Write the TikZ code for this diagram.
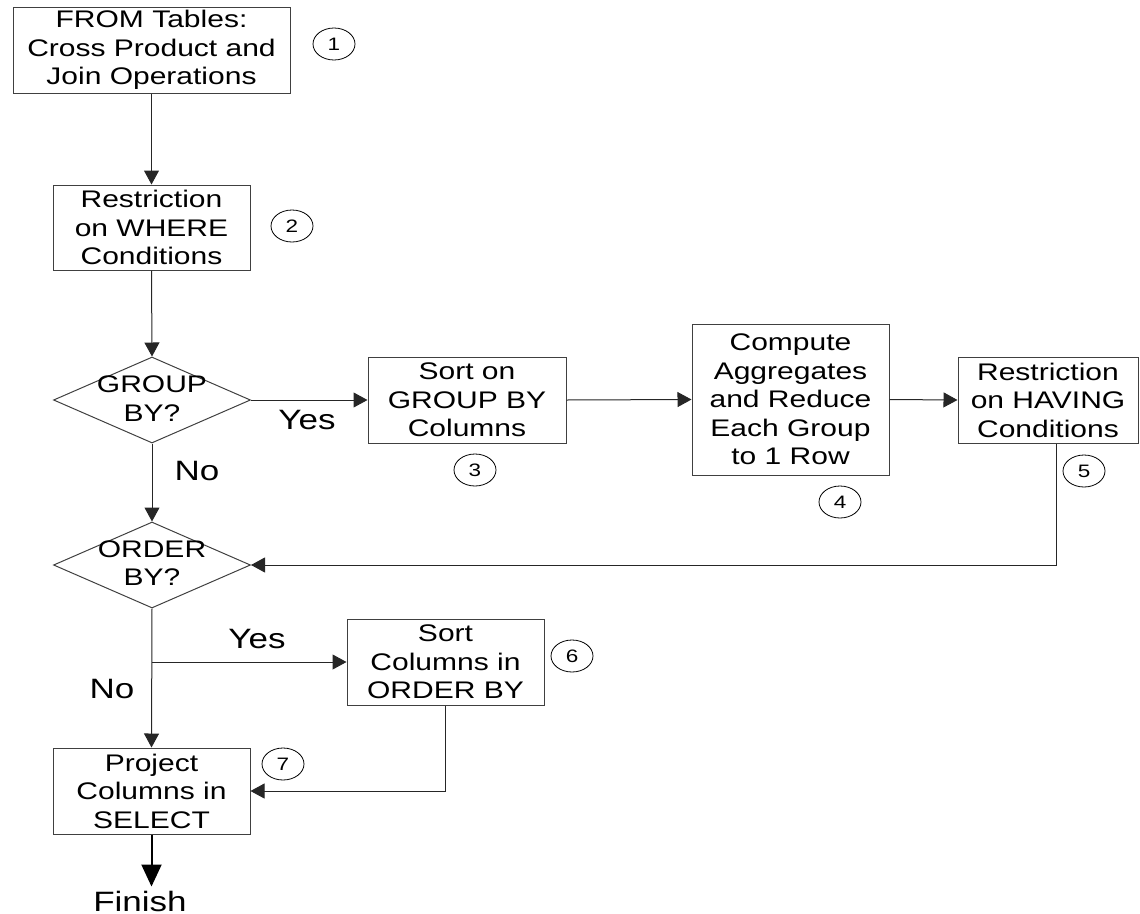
\documentclass[tikz,border=0pt]{standalone}
\usepackage{fontspec}
\setmainfont{Liberation Sans}[FakeStretch=1.25]
\usetikzlibrary{shapes.geometric,arrows.meta}
\begin{document}
\begin{tikzpicture}[x=1pt,y=-1pt,
  box/.style={draw=black!75, line width=1pt, minimum width=197pt, minimum height=86pt, inner sep=0pt, align=center, font=\fontsize{24}{28.5}\selectfont},
  dia/.style={draw=black!75, line width=1pt, diamond, minimum width=197pt, minimum height=86pt, inner sep=0pt},
  diatext/.style={align=center, inner sep=0pt, font=\fontsize{24}{28.5}\selectfont},
  num/.style={draw=black, line width=0.8pt, ellipse, minimum width=42pt, minimum height=32pt, inner sep=0pt, font=\fontsize{18}{18}\selectfont},
  lbl/.style={inner sep=0pt, font=\fontsize{28}{30}\selectfont},
  conn/.style={draw=black!85, line width=1pt, -{Triangle[length=14pt,width=15pt]}},
  bigconn/.style={draw=black, line width=2pt, -{Triangle[length=22pt,width=20pt]}},
]
\useasboundingbox (0,0) rectangle (1140,913);

% boxes
\node[box, minimum width=277pt] (b1) at (151.5,50) {FROM Tables:\\Cross Product and\\Join Operations};
\node[box, minimum height=85pt] (b2) at (151.5,227.5) {Restriction\\on WHERE\\Conditions};
\node[dia] (d1) at (152,400) {};
\node[diatext] (d1t) at (152,398.5) {GROUP\\BY?};
\node[box, minimum width=198pt] (b3) at (467,400) {Sort on\\GROUP BY\\Columns};
\node[box, minimum height=151pt] (b4) at (790.5,399.5) {Compute\\Aggregates\\and Reduce\\Each Group\\to 1 Row};
\node[box, minimum width=180pt] (b5) at (1048,400) {Restriction\\on HAVING\\Conditions};
\node[dia] (d2) at (152,565) {};
\node[diatext] (d2t) at (152,563) {ORDER\\BY?};
\node[box] (b6) at (445.5,662) {Sort\\Columns in\\ORDER BY};
\node[box] (b7) at (151.5,791) {Project\\Columns in\\SELECT};
\node[lbl] (fin) at (140,901) {Finish};

% step numbers
\node[num] (c1) at (334,44) {1};
\node[num] (c2) at (292,226) {2};
\node[num] (c3) at (475,470) {3};
\node[num] (c4) at (840,502) {4};
\node[num] (c5) at (1084,471) {5};
\node[num] (c6) at (572,656) {6};
\node[num] (c7) at (283,764) {7};

% labels
\node[lbl] (yes1) at (307,420) {Yes};
\node[lbl] (no1) at (197,471) {No};
\node[lbl] (yes2) at (257,639) {Yes};
\node[lbl] (no2) at (112,689) {No};

% connectors
\draw[conn] (b1.south) -- (b2.north);
\draw[conn] (b2.south) -- (d1.north);
\draw[conn] (d1.east) -- (b3.west);
\draw[conn] (b3.east) -- (b4.west);
\draw[conn] (b4.east) -- (b5.west);
\draw[conn] ([xshift=8pt]b5.south) |- (d2.east);
\draw[conn] (d1.south) -- (d2.north);
\draw[conn] (d2.south) -- (b7.north);
\coordinate (br) at (d2.south |- b6.west);
\draw[conn] (br) -- (b6.west);
\draw[conn] (b6.south) |- (b7.east);
\draw[bigconn] (b7.south) -- ([yshift=4pt]b7.south |- fin.north);
\end{tikzpicture}
\end{document}
